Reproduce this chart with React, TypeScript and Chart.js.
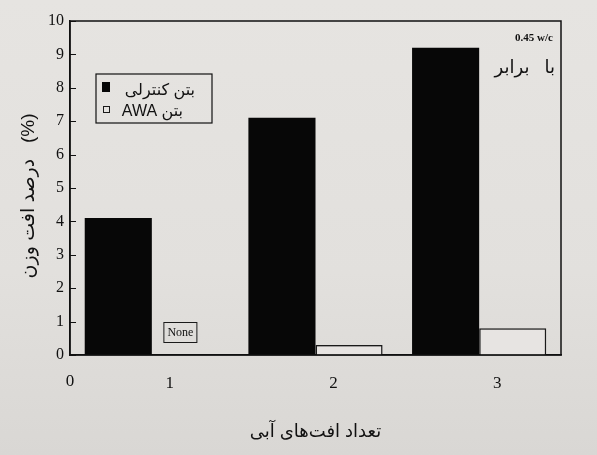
import { useEffect, useRef } from "react"
import { Chart, registerables, type Plugin } from "chart.js"

Chart.register(...registerables)

// data
const cycles = ["1", "2", "3"]
const controlLoss = [4.1, 7.1, 9.2]
const awaLoss = [null, 0.3, 0.8]
const yTicks = [0, 1, 2, 3, 4, 5, 6, 7, 8, 9, 10]
const seriesNames = ["بتن کنترلی", "AWA بتن"]
const originLabel = "0"
const noneLabel = "None"
const noteLines = ["0.45 w/c", "با   برابر"]
const xTitle = "تعداد افت‌های آبی"
const yTitle = "درصد افت وزن   (%)   "

const INK = "#111111"
const PAPER = "#e2e0dd"
const SERIF = "'Liberation Serif', 'DejaVu Serif', serif"
const SANS = "'Liberation Sans', 'DejaVu Sans', sans-serif"

// frame, inward y ticks, origin label, legend box and notes
const decor: Plugin<"bar"> = {
  id: "decor",
  afterDraw(chart) {
    const { ctx, chartArea: a } = chart
    const y = chart.scales.y
    ctx.save()

    ctx.strokeStyle = INK
    ctx.lineWidth = 1.5
    ctx.strokeRect(a.left, a.top, a.right - a.left, a.bottom - a.top)

    ctx.lineWidth = 1
    ctx.beginPath()
    y.ticks.forEach((t) => {
      const py = Math.round(y.getPixelForValue(t.value)) + 0.5
      ctx.moveTo(a.left, py)
      ctx.lineTo(a.left + 6, py)
    })
    ctx.stroke()

    ctx.fillStyle = INK
    ctx.font = `17px ${SERIF}`
    ctx.textAlign = "center"
    ctx.textBaseline = "top"
    ctx.fillText(originLabel, a.left, a.bottom + 18)

    // legend
    const lx = a.left + 26
    const ly = a.top + 53
    ctx.lineWidth = 1.2
    ctx.strokeRect(lx, ly, 116, 49)
    const ds = chart.data.datasets
    ctx.font = `16px ${SANS}`
    ctx.textAlign = "right"
    ctx.textBaseline = "middle"
    ctx.fillStyle = ds[0].backgroundColor as string
    ctx.fillRect(lx + 6, ly + 8, 8, 10)
    ctx.fillStyle = INK
    ctx.fillText(ds[0].label ?? "", lx + 99, ly + 17)
    ctx.strokeStyle = ds[1].borderColor as string
    ctx.lineWidth = 1
    ctx.strokeRect(lx + 7.5, ly + 32.5, 6, 6)
    ctx.fillText(ds[1].label ?? "", lx + 87, ly + 38)

    // "None" tag over the empty AWA slot
    const bar = chart.getDatasetMeta(1).data[0]
    const nx = (bar ? bar.x : a.left + 115) - 5
    const ny = a.bottom - 23
    ctx.lineWidth = 1
    ctx.strokeRect(nx - 16.5, ny - 9.5, 33, 20)
    ctx.font = `12px ${SERIF}`
    ctx.textAlign = "center"
    ctx.fillText(noneLabel, nx, ny + 1)

    // notes, top right
    ctx.textAlign = "right"
    ctx.font = `bold 11px ${SERIF}`
    ctx.fillText(noteLines[0], a.right - 8, a.top + 17)
    ctx.font = `18px ${SANS}`
    ctx.fillText(noteLines[1], a.right - 6, a.top + 47)

    ctx.restore()
  },
}

export default function App() {
  const canvasRef = useRef<HTMLCanvasElement>(null)
  const chartRef = useRef<Chart | null>(null)

  useEffect(() => {
    if (!canvasRef.current) return
    if (chartRef.current) chartRef.current.destroy()

    chartRef.current = new Chart(canvasRef.current, {
      type: "bar",
      data: {
        labels: cycles,
        datasets: [
          {
            label: seriesNames[0],
            data: controlLoss,
            backgroundColor: "#070707",
            borderWidth: 0,
          },
          {
            label: seriesNames[1],
            data: awaLoss,
            backgroundColor: "rgba(236,234,231,0.6)",
            borderColor: "#1a1a1a",
            borderWidth: 1.5,
          },
        ],
      },
      options: {
        animation: false,
        responsive: true,
        maintainAspectRatio: false,
        layout: { padding: { top: 21, right: 36, left: 0, bottom: 0 } },
        datasets: { bar: { categoryPercentage: 0.82, barPercentage: 1 } },
        plugins: {
          legend: { display: false },
          tooltip: { enabled: false },
        },
        scales: {
          x: {
            type: "category",
            offset: true,
            grid: { display: false, drawTicks: false },
            border: { display: true, color: INK, width: 1.5 },
            ticks: {
              color: INK,
              font: { family: SERIF, size: 17 },
              padding: 18,
              labelOffset: 18,
              maxRotation: 0,
            },
            title: {
              display: true,
              text: xTitle,
              color: INK,
              font: { family: SANS, size: 18 },
              padding: { top: 0, bottom: 12 },
            },
            afterFit: (s) => {
              s.height = 100
            },
          },
          y: {
            min: 0,
            max: 10,
            afterBuildTicks: (s) => {
              s.ticks = yTicks.map((v) => ({ value: v }))
            },
            grid: { display: false, drawTicks: false },
            border: { display: true, color: INK, width: 1.5 },
            ticks: {
              color: INK,
              font: { family: SERIF, size: 16 },
              padding: 6,
            },
            title: {
              display: true,
              text: yTitle,
              color: INK,
              font: { family: SANS, size: 19 },
              padding: { top: 17, bottom: 0 },
            },
            afterFit: (s) => {
              s.width = 70
            },
          },
        },
      },
      plugins: [decor],
    })

    return () => {
      if (chartRef.current) {
        chartRef.current.destroy()
        chartRef.current = null
      }
    }
  }, [])

  return (
    <div
      style={{
        position: "fixed",
        left: 0,
        top: 0,
        width: 597,
        height: 455,
        background: `linear-gradient(180deg, #e6e4e1 0%, ${PAPER} 60%, #d9d7d4 100%)`,
      }}
    >
      <canvas ref={canvasRef} />
    </div>
  )
}
